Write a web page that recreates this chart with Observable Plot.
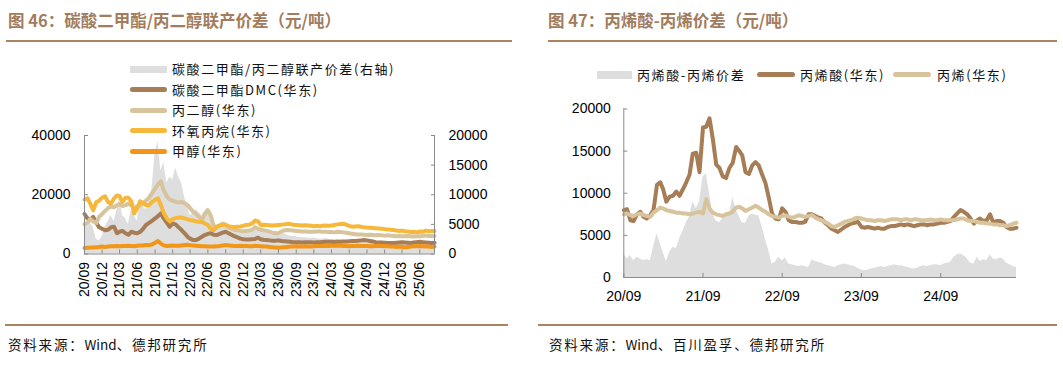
<!DOCTYPE html>
<html><head><meta charset="utf-8">
<script src="https://cdn.jsdelivr.net/npm/d3@7"></script>
<script src="https://cdn.jsdelivr.net/npm/@observablehq/plot@0.6"></script>
<style>
body{margin:0;background:#fff;}
#root{position:relative;width:1063px;height:367px;overflow:hidden;font-family:"Noto Sans CJK SC",sans-serif;background:#fff;}
.abs{position:absolute;}
.title{font-size:16.5px;font-weight:bold;color:#a27c5c;white-space:nowrap;line-height:1;}
.rule{height:2px;background:#a8845f;}
.lg{font-size:13px;letter-spacing:1.6px;color:#111;white-space:nowrap;line-height:1;}
.sw{position:absolute;height:5px;border-radius:3px;}
.src{font-size:13.5px;letter-spacing:1.8px;white-space:nowrap;line-height:1;color:#111;}
.src .lat{letter-spacing:0;}
.plotbox{position:absolute;}
</style></head><body><div id="root"></div>
<script>
// ---------- categories (semi-monthly observations, 2020-09 .. 2025-08) ----------
const dates = d3.range(120).map(i => new Date(Date.UTC(2020, 8 + Math.floor(i / 2), i % 2 ? 16 : 1)));

// ---------- Figure 46 series (元/吨) ----------
const dmc = [13500,12000,11500,12500,10500,9000,8500,8000,8200,9000,
 9200,7000,7500,7800,7000,6500,7500,7200,7000,7500,
 8500,9800,10500,11200,12000,12800,13700,12000,10500,9200,
 10300,10000,9000,8100,7000,5800,5200,4700,4700,5200,
 5800,6400,6800,7000,6500,6400,6800,7200,7500,7000,
 6500,6000,5600,5200,5000,4900,4900,5000,5100,5500,
 5000,4800,4700,4600,4500,4500,4600,4400,4300,4200,
 4100,4000,3950,4000,3900,3950,4000,3950,3900,3950,
 4000,4050,4100,4150,4100,4050,4100,4150,4200,4250,
 4300,4350,4400,4500,4600,4700,4600,4400,4200,4000,
 3900,3850,3800,3750,3700,3700,3800,3900,4000,3900,
 3800,3700,3900,4000,4100,4000,3900,3800,3700,3800];
const pg = [10000,10500,11800,11000,10500,12500,13500,14500,15500,16000,
 15800,16500,16800,16200,16500,17000,16500,15500,16000,16500,
 17000,18000,19000,20500,22000,23500,24500,21500,19500,18300,
 18000,17600,17400,17600,17200,16500,15500,14300,13500,12500,
 11500,13500,14800,13000,9500,9000,9500,10200,10000,9000,
 8500,8200,8000,7800,7700,7800,7900,8200,9000,8500,
 8200,8000,7800,7500,7200,7000,7100,7600,8000,8100,
 8000,7900,7800,7700,7600,7600,7500,7500,7500,7600,
 7600,7500,7500,7400,7400,7300,7500,7400,7300,7200,
 7000,6800,6700,6600,6600,6500,6400,6500,6400,6300,
 6400,6300,6200,6300,6200,6100,6000,6100,6000,6000,
 6100,6000,5900,6000,6000,6100,6200,6100,6100,6100];
const po = [18400,18800,17000,14800,17500,18000,19000,19500,17500,17000,
 18800,19800,19600,17600,19000,19000,17800,13700,15500,17800,
 17300,16500,16500,17500,18300,18800,16500,13800,12000,11000,
 11800,12100,12300,12300,12000,11700,11500,11300,11000,10800,
 10900,10300,9800,8500,8000,9200,9700,9900,9700,9400,
 9200,9100,9200,9300,9500,9800,9900,10300,11300,11000,
 9800,9900,9800,9700,9600,9700,9800,9900,10000,10100,
 10100,9900,9800,9700,9600,9700,9600,9500,9400,9500,
 9400,9500,9600,9500,9600,9800,10000,10100,10200,9900,
 9500,9200,9300,9400,9200,9000,8900,8900,8800,8700,
 8600,8500,8400,8300,8200,8100,7900,7800,7900,7700,
 7600,7400,7500,7300,7600,7500,7900,7700,7800,7750];
const meoh = [2000,2100,2200,2200,2300,2400,2500,2400,2500,2600,
 2600,2700,2600,2700,2700,2800,2700,2600,2800,2900,
 2900,3000,3000,3200,3800,4400,3500,2900,2700,2800,
 2900,2800,2800,2900,3000,3100,3000,2900,2800,2700,
 2600,2600,2500,2500,2500,2600,2700,2900,3000,2900,
 2800,2700,2700,2800,2700,2700,2600,2600,2800,2700,
 2600,2500,2500,2400,2300,2200,2100,2200,2300,2400,
 2500,2500,2600,2500,2500,2600,2500,2500,2600,2700,
 2700,2800,2700,2700,2800,2800,2900,2800,2700,2700,
 2600,2700,2700,2800,2700,2700,2700,2600,2600,2700,
 2800,2700,2600,2600,2500,2500,2400,2500,2400,2300,
 2400,2500,2600,2600,2700,2600,2500,2500,2400,2500];
const spread46 = [5000,4600,5200,4500,2500,2200,3000,4500,5500,6500,
 5500,7500,9500,6500,6000,5000,7500,6500,5500,9000,
 8000,7500,9000,11000,17000,19000,14000,15500,12000,13000,
 12500,14500,13000,12000,9500,8000,6500,6800,7500,7000,
 6500,7200,7800,6000,4800,4500,5000,5500,4800,4200,
 3900,3800,3600,3700,3500,3600,3800,4200,5000,4200,
 3900,3700,3500,3300,3200,3400,3800,3600,3400,3200,
 3000,3000,2900,2800,2800,2700,2700,2600,2700,2600,
 2500,2500,2600,2500,2400,2400,2500,2400,2300,2200,
 2300,2200,2100,2200,2100,2000,2100,2000,2000,1900,
 2000,1900,1800,1900,1800,1800,1700,1800,1700,1600,
 1700,1800,1700,1800,1900,1800,1900,2000,1900,1800];

// ---------- Figure 47 series (元/吨) ----------
const acrylic = [8000,8100,6800,6700,7500,7800,7200,7000,7400,8000,
 11000,11300,10500,9000,9600,9700,10200,9700,10500,11300,
 12200,14700,14800,12500,17800,17900,18900,16500,13400,13000,
 12000,11800,13000,13600,15500,15000,14500,12500,12300,13300,
 13700,13300,12200,11200,9500,7600,7000,6900,8200,7800,
 6800,6600,6600,6500,6500,6600,7500,7500,7300,7100,
 7000,6500,6200,5800,5600,5400,5700,6000,6200,6400,
 6500,6600,6000,5900,6000,5900,5800,5900,5800,5800,
 6000,6100,6100,6200,6300,6200,6300,6200,6100,6200,
 6300,6300,6200,6300,6300,6400,6500,6500,6600,6700,
 7200,7600,8000,7800,7500,7000,6400,6800,7000,6700,
 6800,7500,6500,6700,6700,6500,6000,5800,5800,5900];
const propylene = [7500,7600,7400,7300,7500,7600,7400,7300,7200,7700,
 8000,8300,8200,8000,7900,7800,7700,7700,7600,7600,
 7500,7600,7700,7800,7600,9300,8200,7700,7500,7400,
 7300,7500,7600,7800,8300,8400,8200,7900,8100,8300,
 8500,8300,8000,7800,7500,7300,7200,7100,7300,7400,
 7200,7100,7200,7400,7300,7200,7300,7400,7100,6900,
 6800,6600,6400,6100,6000,6200,6400,6600,6700,6800,
 7000,7100,7000,6900,6800,6800,6700,6800,6800,6700,
 6800,6900,6900,6900,6800,6900,6900,6800,6900,6900,
 6800,6800,6800,6900,6800,6800,6900,6800,6800,6800,
 6800,6900,7000,7000,6800,6700,6700,6600,6500,6500,
 6400,6400,6300,6300,6200,6200,6100,6200,6400,6500];
const spread47 = [2800,2200,2600,2000,2400,2200,2000,2100,2000,3600,
 5200,4000,3000,1900,3000,3600,3400,4600,5500,6500,
 7200,9000,8200,9000,11900,12300,10000,7500,6700,6500,
 7000,7300,7500,9500,8000,7200,6500,6400,7300,7500,
 7400,7300,6000,4500,3200,1600,1800,2400,2000,2300,
 1600,1500,1400,1300,1400,1300,1200,2100,1900,1800,
 1700,1500,1400,1300,1200,1400,1500,1600,1500,1400,
 1300,1100,900,800,900,1000,1100,1200,1300,1200,
 1300,1400,1500,1400,1400,1300,1200,1100,1000,1100,
 1300,1400,1300,1400,1500,1500,1400,1600,1700,1800,
 2400,2700,2800,2600,2200,1700,1600,2400,1900,2100,
 2000,2700,2200,2100,2300,2200,1700,1500,1300,1200];

// ---------- ticks & labels ----------
const ticks46X = ["2020-09","2020-12","2021-03","2021-06","2021-09","2021-12","2022-03","2022-06","2022-09","2022-12","2023-03","2023-06","2023-09","2023-12","2024-03","2024-06","2024-09","2024-12","2025-03","2025-06"];
const ticks46YLeft = [0, 20000, 40000];
const ticks46YRight = [0, 5000, 10000, 15000, 20000];
const ticks47X = ["2020-09","2021-09","2022-09","2023-09","2024-09"];
const ticks47Y = [0, 5000, 10000, 15000, 20000];

const names46 = ["碳酸二甲酯/丙二醇联产价差(右轴)","碳酸二甲酯DMC(华东)","丙二醇(华东)","环氧丙烷(华东)","甲醇(华东)"];
const names47 = ["丙烯酸-丙烯价差","丙烯酸(华东)","丙烯(华东)"];
const sources = [["资料来源：","Wind","、德邦研究所"],["资料来源：","Wind","、百川盈孚、德邦研究所"]];

const COL = {gray:"#dedede", brown:"#a67d55", beige:"#d8c49c", yellow:"#f6b83a", orange:"#f39516", axis:"#8a8a8a"};

const parseM = d3.utcParse("%Y-%m");
const fmtX = d3.utcFormat("%y/%m");
const rows46 = dates.map((d,i) => ({date:d, dmc:dmc[i], pg:pg[i], po:po[i], meoh:meoh[i], spread:spread46[i]}));
const rows47 = dates.map((d,i) => ({date:d, acrylic:acrylic[i], propylene:propylene[i], spread:spread47[i]}));

const root = document.getElementById("root");
function el(cls, styles, text){ const e=document.createElement("div"); e.className=cls; Object.assign(e.style, styles); if(text!=null) e.textContent=text; root.appendChild(e); return e; }

const axisFont = {fontFamily:"'Liberation Sans', Arial, sans-serif", fontSize:"14px", color:"#000", background:"transparent", overflow:"visible"};
const right46 = v => v * 2; // right axis (0-20000) mapped onto left scale (0-40000)

// ---------- Figure 46 plot ----------
const p46 = Plot.plot({
  width: 530, height: 200,
  marginLeft: 84, marginRight: 96, marginTop: 15, marginBottom: 66.5,
  style: axisFont,
  x: {type:"utc", domain:[dates[0], dates[dates.length-1]], axis:null},
  y: {domain:[0, 40000], axis:null},
  marks: [
    Plot.areaY(rows46, {x:"date", y: d => right46(d.spread), fill: COL.gray}),
    Plot.lineY(rows46, {x:"date", y:"dmc", stroke: COL.brown, strokeWidth: 4, strokeLinejoin:"round"}),
    Plot.lineY(rows46, {x:"date", y:"pg", stroke: COL.beige, strokeWidth: 4, strokeLinejoin:"round"}),
    Plot.lineY(rows46, {x:"date", y:"po", stroke: COL.yellow, strokeWidth: 4, strokeLinejoin:"round"}),
    Plot.lineY(rows46, {x:"date", y:"meoh", stroke: COL.orange, strokeWidth: 4, strokeLinejoin:"round"}),
    Plot.ruleX([dates[0], dates[dates.length-1]], {stroke: COL.axis}),
    Plot.ruleY([0], {stroke: COL.axis}),
    Plot.axisY(ticks46YLeft, {tickSize:0, tickPadding:14, tickFormat: d3.format("d"), fill:"#000"}),
    Plot.axisY(ticks46YLeft, {tickSize:4, dx:4, tickFormat: () => "", stroke: COL.axis}),
    Plot.axisY(ticks46YRight.map(right46), {anchor:"right", tickSize:0, tickPadding:14, tickFormat: v => String(v/2), fill:"#000"}),
    Plot.axisY(ticks46YRight.map(right46), {anchor:"right", tickSize:4, dx:-4, tickFormat: () => "", stroke: COL.axis}),
    Plot.axisX(ticks46X.map(parseM), {tickSize:0, tickPadding:8, tickRotate:-90, tickFormat: fmtX, fill:"#000"}),
    Plot.axisX(ticks46X.map(parseM), {tickSize:4, dy:-4, tickFormat: () => "", stroke: COL.axis})
  ]
});
const box46 = el("plotbox", {left:"0px", top:"120px", width:"530px", height:"200px"});
box46.appendChild(p46);

// ---------- Figure 47 plot ----------
const p47 = Plot.plot({
  width: 533, height: 220,
  marginLeft: 93.3, marginRight: 47, marginTop: 13.5, marginBottom: 38,
  style: axisFont,
  x: {type:"utc", domain:[dates[0], dates[dates.length-1]], axis:null},
  y: {domain:[0, 20000], axis:null},
  marks: [
    Plot.areaY(rows47, {x:"date", y:"spread", fill: COL.gray}),
    Plot.lineY(rows47, {x:"date", y:"acrylic", stroke: COL.brown, strokeWidth: 4, strokeLinejoin:"round"}),
    Plot.lineY(rows47, {x:"date", y:"propylene", stroke: COL.beige, strokeWidth: 4, strokeLinejoin:"round"}),
    Plot.ruleX([dates[0]], {stroke: COL.axis}),
    Plot.ruleY([0], {stroke: COL.axis}),
    Plot.axisY(ticks47Y, {tickSize:0, tickPadding:13, tickFormat: d3.format("d"), fill:"#000"}),
    Plot.axisY(ticks47Y, {tickSize:4, dx:4, tickFormat: () => "", stroke: COL.axis}),
    Plot.axisX(ticks47X.map(parseM), {tickSize:0, tickPadding:14, tickFormat: fmtX, fill:"#000"}),
    Plot.axisX(ticks47X.map(parseM), {tickSize:4, dy:-4, tickFormat: () => "", stroke: COL.axis})
  ]
});
const box47 = el("plotbox", {left:"530px", top:"95px", width:"533px", height:"220px"});
box47.appendChild(p47);

// ---------- titles, rules, sources ----------
el("abs title", {left:"8px", top:"12px"}, "图 46：碳酸二甲酯/丙二醇联产价差（元/吨）");
el("abs title", {left:"548px", top:"12px"}, "图 47：丙烯酸-丙烯价差（元/吨）");
el("abs rule", {left:"6px", top:"40px", width:"506px"});
el("abs rule", {left:"548px", top:"40px", width:"509px"});
el("abs rule", {left:"5px", top:"324px", width:"503px"});
el("abs rule", {left:"538px", top:"324px", width:"519px"});
[8, 549].forEach((x, k) => {
  const s = el("abs src", {left: x + "px", top:"338px"});
  sources[k].forEach((part, j) => {
    const sp = document.createElement("span");
    if (j === 1) sp.className = "lat";
    sp.textContent = part;
    s.appendChild(sp);
  });
});

// ---------- legend 46 (vertical) ----------
const lg46Colors = [COL.gray, COL.brown, COL.beige, COL.yellow, COL.orange];
const lg46Y = [69, 89.5, 110, 130.5, 151];
names46.forEach((n,i) => {
  const h = i === 0 ? 7 : 5;
  el("sw", {left:"130px", top:(lg46Y[i]-h/2)+"px", width:"37px", height:h+"px", background:lg46Colors[i], borderRadius: i===0 ? "0px" : "3px"});
  el("abs lg", {left:"172px", top:(lg46Y[i]-7)+"px"}, n);
});

// ---------- legend 47 (horizontal) ----------
const lg47Colors = [COL.gray, COL.brown, COL.beige];
const lg47Sw = [597, 757, 893];
const lg47Tx = [637, 800, 937];
names47.forEach((n,i) => {
  const h = i === 0 ? 8 : 5;
  el("sw", {left:lg47Sw[i]+"px", top:(74.5-h/2)+"px", width:(i===0?35:38)+"px", height:h+"px", background:lg47Colors[i], borderRadius: i===0 ? "0px" : "3px"});
  el("abs lg", {left:lg47Tx[i]+"px", top:(74.5-7)+"px"}, n);
});
</script>
</body></html>
